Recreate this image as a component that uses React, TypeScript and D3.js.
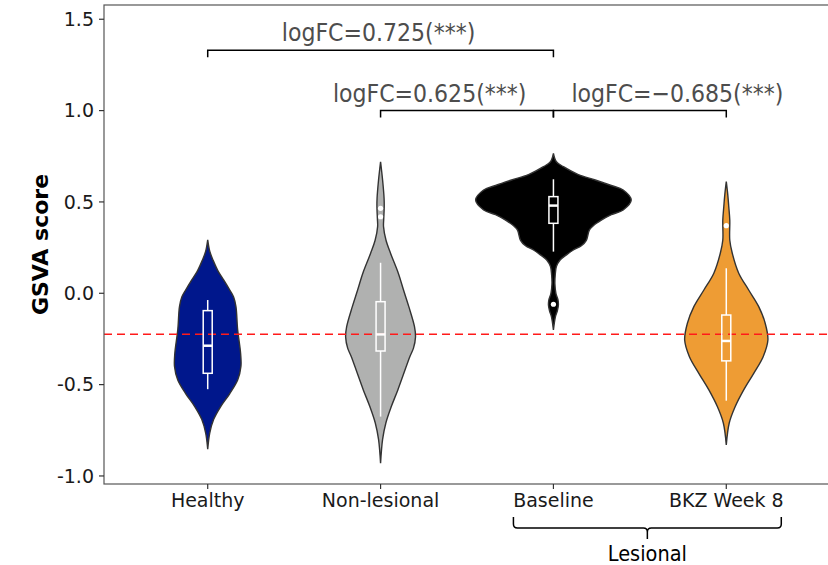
import React from "react";
import * as d3 from "d3";

const categories = ["Healthy", "Non-lesional", "Baseline", "BKZ Week 8"];
const fills = ["#00178C", "#B0B1B0", "#000000", "#EE9C34"];
const yTicks = [-1.0, -0.5, 0.0, 0.5, 1.0, 1.5];
const yTickLabels = ["-1.0", "-0.5", "0.0", "0.5", "1.0", "1.5"];

// violin profiles: [score, relative density (fraction of max half-width)]
const healthyDensity: [number, number][] = [
  [0.292, 0], [0.23, 0.026], [0.18, 0.07], [0.12, 0.135], [0.073, 0.205], [0.02, 0.28],
  [-0.02, 0.333], [-0.073, 0.363], [-0.2, 0.385], [-0.33, 0.423], [-0.4, 0.427],
  [-0.475, 0.385], [-0.55, 0.282], [-0.62, 0.167], [-0.69, 0.077], [-0.765, 0.026], [-0.854, 0],
];
const nonLesionalDensity: [number, number][] = [
  [0.72, 0], [0.62, 0.026], [0.52, 0.045], [0.474, 0.047], [0.41, 0.041], [0.365, 0.038],
  [0.29, 0.07], [0.219, 0.128], [0.11, 0.228], [0.018, 0.295], [-0.073, 0.363], [-0.183, 0.436],
  [-0.24, 0.449], [-0.3, 0.423], [-0.347, 0.376], [-0.438, 0.299], [-0.529, 0.222],
  [-0.62, 0.138], [-0.71, 0.068], [-0.8, 0.026], [-0.93, 0],
];
const baselineDensity: [number, number][] = [
  [0.766, 0], [0.72, 0.038], [0.693, 0.128], [0.65, 0.32], [0.62, 0.538], [0.59, 0.744],
  [0.565, 0.897], [0.51, 1.0], [0.456, 0.897], [0.43, 0.744], [0.4, 0.615], [0.37, 0.513],
  [0.346, 0.462], [0.29, 0.423], [0.26, 0.359], [0.237, 0.256], [0.21, 0.167], [0.182, 0.086],
  [0.146, 0.038], [0.1, 0.023], [0.05, 0.019], [0.0, 0.032], [-0.035, 0.058], [-0.064, 0.064],
  [-0.095, 0.051], [-0.128, 0.026], [-0.2, 0],
];
const bkzDensity: [number, number][] = [
  [0.611, 0], [0.54, 0.019], [0.474, 0.032], [0.4, 0.045], [0.29, 0.045], [0.219, 0.077],
  [0.11, 0.16], [0.018, 0.288], [-0.073, 0.417], [-0.164, 0.5], [-0.256, 0.535],
  [-0.347, 0.474], [-0.438, 0.353], [-0.529, 0.224], [-0.62, 0.115], [-0.71, 0.038], [-0.83, 0],
];
const densities = [healthyDensity, nonLesionalDensity, baselineDensity, bkzDensity];

// box stats
const whiskerLow = [-0.525, -0.675, 0.228, -0.588];
const q1 = [-0.438, -0.316, 0.383, -0.37];
const medians = [-0.287, -0.225, 0.48, -0.261];
const q3 = [-0.095, -0.046, 0.529, -0.119];
const whiskerHigh = [-0.037, 0.167, 0.624, 0.137];
const outliers: [number, number][] = [
  [1, 0.465], [1, 0.419], [2, -0.06], [3, 0.37],
];

const refLine = -0.224;

const comparisons = [
  { from: 0, to: 2, y: 1.33, label: "logFC=0.725(***)" },
  { from: 1, to: 2, y: 1.0, label: "logFC=0.625(***)" },
  { from: 2, to: 3, y: 1.0, label: "logFC=\u22120.685(***)" },
];

const W = 828;
const H = 565;
const left = 104;
const right = 830;
const top = 5;
const bottom = 484;

export default function App() {
  const x = d3.scalePoint<string>().domain(categories).range([left, right]).padding(0.6);
  const y = d3.scaleLinear().domain([-1.044, 1.578]).range([bottom, top]);
  const step = x.step();
  const wScale = d3.scaleLinear().domain([0, 1]).range([0, step * 0.45]);

  const violins = categories.map((c, i) => {
    const cx = x(c)!;
    const area = d3
      .area<[number, number]>()
      .y((d) => y(d[0]))
      .x0((d) => cx - wScale(d[1]))
      .x1((d) => cx + wScale(d[1]))
      .curve(d3.curveCatmullRom.alpha(0.5));
    return (
      <path key={c} d={area(densities[i]) || ""} fill={fills[i]} stroke="#333333" strokeWidth={1.4} />
    );
  });

  const boxHalf = 4.5;
  const boxes = categories.map((c, i) => {
    const cx = x(c)!;
    return (
      <g key={c} stroke="#FFFFFF" strokeWidth={1.5} fill="none">
        <line x1={cx} x2={cx} y1={y(whiskerHigh[i])} y2={y(q3[i])} />
        <line x1={cx} x2={cx} y1={y(q1[i])} y2={y(whiskerLow[i])} />
        <rect x={cx - boxHalf} y={y(q3[i])} width={boxHalf * 2} height={y(q1[i]) - y(q3[i])} />
        <line x1={cx - boxHalf} x2={cx + boxHalf} y1={y(medians[i])} y2={y(medians[i])} strokeWidth={2.5} />
      </g>
    );
  });

  const tickLen = 5;
  const condensed = "'DejaVu Sans Condensed', 'DejaVu Sans', sans-serif";

  const brackets = comparisons.map((cmp, i) => {
    const x1 = x(categories[cmp.from])!;
    const x2 = x(categories[cmp.to])!;
    const yy = y(cmp.y);
    const drop = 7;
    let tx = (x1 + x2) / 2 - 2;
    let anchor: "middle" | "end" | "start" = "middle";
    if (i === 1) {
      tx = x2 - 27;
      anchor = "end";
    } else if (i === 2) {
      tx = x1 + 18;
      anchor = "start";
    }
    return (
      <g key={i}>
        <path
          d={`M${x1},${yy + drop}V${yy}H${x2}V${yy + drop}`}
          fill="none"
          stroke="#000"
          strokeWidth={1.5}
        />
        <text
          x={tx}
          y={yy - 9}
          textAnchor={anchor}
          fontFamily={condensed}
          fontSize={24.5}
          fill="#4D4D4D"
          style={{ fontStretch: "condensed" }}
        >
          {cmp.label}
        </text>
      </g>
    );
  });

  // bottom brace for "Lesional"
  const bx1 = x("Baseline")! - 40;
  const bx2 = x("BKZ Week 8")! + 55;
  const bmid = (bx1 + bx2) / 2;
  const bTop = 517;
  const bY = 528;
  const r = 4;
  const brace = d3.path();
  brace.moveTo(bx1, bTop);
  brace.lineTo(bx1, bY - r);
  brace.quadraticCurveTo(bx1, bY, bx1 + r, bY);
  brace.lineTo(bmid - r, bY);
  brace.quadraticCurveTo(bmid, bY, bmid, bY + r);
  brace.lineTo(bmid, 539);
  brace.moveTo(bmid, bY + r);
  brace.quadraticCurveTo(bmid, bY, bmid + r, bY);
  brace.lineTo(bx2 - r, bY);
  brace.quadraticCurveTo(bx2, bY, bx2, bY - r);
  brace.lineTo(bx2, bTop);

  return (
    <svg
      width={W}
      height={H}
      style={{ position: "absolute", left: 0, top: 0, background: "#fff" }}
      fontFamily="'DejaVu Sans', sans-serif"
    >
      <rect x={0} y={0} width={W} height={H} fill="#fff" />
      {violins}
      {/* reference line */}
      <line
        x1={left}
        x2={right}
        y1={y(refLine)}
        y2={y(refLine)}
        stroke="#FF1A1A"
        strokeWidth={1.6}
        strokeDasharray="8,5"
      />
      {boxes}
      {outliers.map(([gi, v], k) => (
        <circle key={k} cx={x(categories[gi])!} cy={y(v)} r={2.6} fill="#FFFFFF" />
      ))}
      {/* panel border */}
      <rect x={left} y={top} width={right - left} height={bottom - top} fill="none" stroke="#555" strokeWidth={1.2} />
      {/* y axis */}
      {yTicks.map((t, i) => (
        <g key={t}>
          <line x1={left - tickLen} x2={left} y1={y(t)} y2={y(t)} stroke="#333" strokeWidth={1.2} />
          <text x={left - 10} y={y(t)} dy="0.36em" textAnchor="end" fontSize={19} fill="#1A1A1A">
            {yTickLabels[i]}
          </text>
        </g>
      ))}
      {/* x axis */}
      {categories.map((c) => (
        <g key={c}>
          <line x1={x(c)!} x2={x(c)!} y1={bottom} y2={bottom + tickLen} stroke="#333" strokeWidth={1.2} />
          <text x={x(c)!} y={bottom + 23} textAnchor="middle" fontSize={19} fill="#1A1A1A">
            {c}
          </text>
        </g>
      ))}
      <text
        transform={`translate(${40},${(top + bottom) / 2}) rotate(-90)`}
        textAnchor="middle"
        dy="0.35em"
        fontSize={22}
        fontWeight="bold"
        fill="#000"
      >
        GSVA score
      </text>
      {brackets}
      <path d={brace.toString()} fill="none" stroke="#000" strokeWidth={1.5} />
      <text
        x={bmid}
        y={561}
        textAnchor="middle"
        fontFamily={condensed}
        fontSize={21.5}
        fill="#000"
        style={{ fontStretch: "condensed" }}
      >
        Lesional
      </text>
    </svg>
  );
}
